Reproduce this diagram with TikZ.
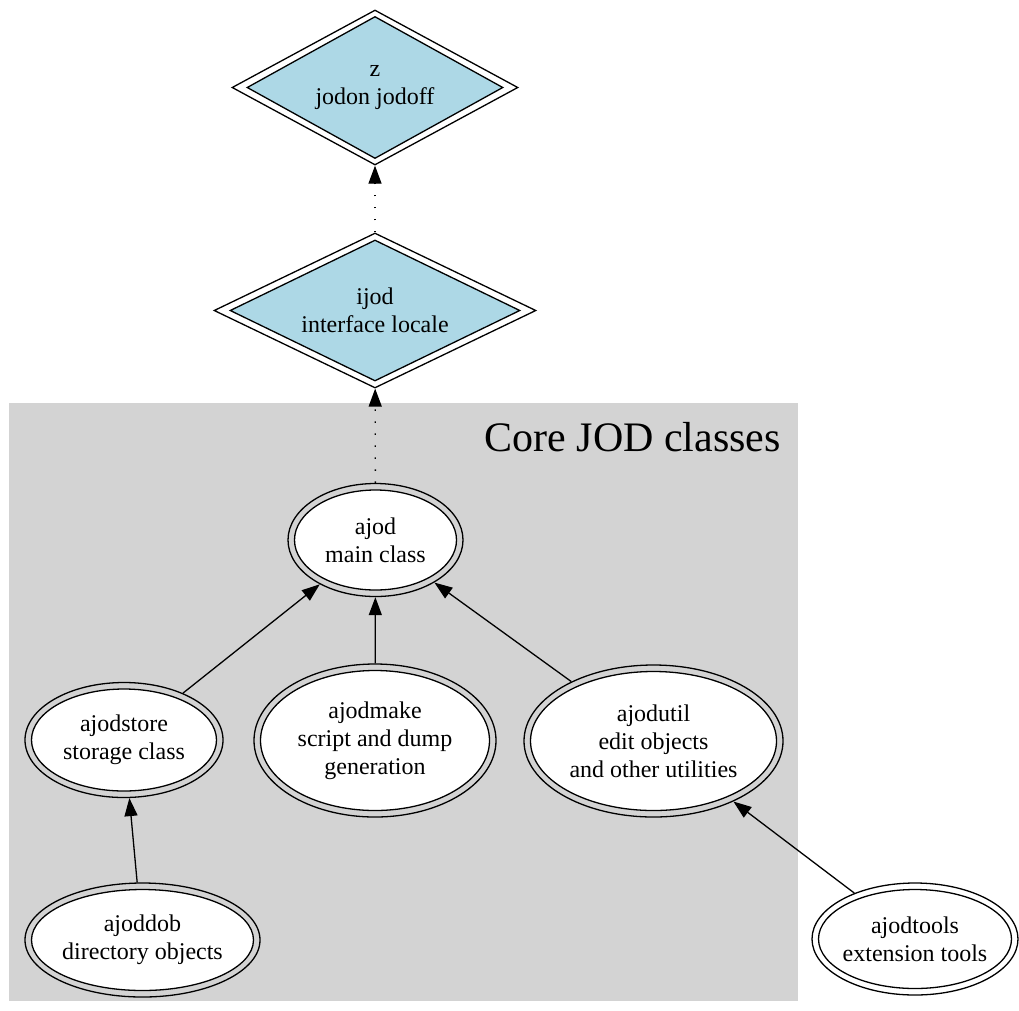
\documentclass[tikz,border=0pt]{standalone}
\usepackage{fontspec}
\setmainfont{Liberation Serif}
\usetikzlibrary{shapes.geometric,arrows.meta}
\definecolor{clgray}{HTML}{D3D3D3}
\definecolor{dblue}{HTML}{ADD8E6}
\newcommand\ndfont{\fontsize{24}{28}\selectfont}
\begin{document}
\begin{tikzpicture}[x=1pt,y=-1pt,
 outerE/.style={ellipse, draw, line width=1.3pt, inner sep=0pt},
 innerE/.style={ellipse, draw, fill=white, line width=1.3pt, inner sep=0pt},
 outerD/.style={diamond, draw, line width=1.3pt, inner sep=0pt, fill=white},
 innerD/.style={diamond, draw, fill=dblue, line width=1.3pt, inner sep=0pt},
 txt/.style={align=center, font=\ndfont, inner sep=0pt},
 edge/.style={line width=1.3pt, -{Triangle[length=18pt,width=13pt]}},
 dots/.style={edge, dash pattern=on 1.6pt off 10.4pt},
]
\useasboundingbox (0,0) rectangle (1019,1010);
\fill[clgray] (9,403) rectangle (798,1001);
\node[txt, font=\fontsize{42}{50}\selectfont, anchor=base east] (lbl) at (781,451) {Core JOD classes};

% diamonds
\node[outerD, minimum width=286pt, minimum height=155pt] (z) at (375,87.5) {};
\node[innerD, minimum width=256pt, minimum height=142pt] (z-in) at (375,87.5) {};
\node[txt] (z-t) at (375,87.5) {z\\jodon jodoff};

\node[outerD, minimum width=322pt, minimum height=155pt] (ijod) at (375,310.5) {};
\node[innerD, minimum width=290pt, minimum height=141pt] (ijod-in) at (375,310.5) {};
\node[txt] (ijod-t) at (375,310.5) {ijod\\interface locale};

% ellipses
\node[outerE, minimum width=175pt, minimum height=113pt] (ajod) at (375.5,540) {};
\node[innerE, minimum width=162pt, minimum height=100pt] (ajod-in) at (375.5,540) {};
\node[txt] (ajod-t) at (375.5,540) {ajod\\main class};

\node[outerE, minimum width=198pt, minimum height=115pt] (ajodstore) at (124,740) {};
\node[innerE, minimum width=185pt, minimum height=102pt] (ajodstore-in) at (124,740) {};
\node[txt] (ajodstore-t) at (124,740) {ajodstore\\storage class};

\node[outerE, minimum width=242pt, minimum height=153pt] (ajodmake) at (375,740.5) {};
\node[innerE, minimum width=229pt, minimum height=140pt] (ajodmake-in) at (375,740.5) {};
\node[txt] (ajodmake-t) at (375,740.5) {ajodmake\\script and dump\\generation};

\node[outerE, minimum width=259pt, minimum height=152pt] (ajodutil) at (653.5,741) {};
\node[innerE, minimum width=246pt, minimum height=139pt] (ajodutil-in) at (653.5,741) {};
\node[txt] (ajodutil-t) at (653.5,741) {ajodutil\\edit objects\\and other utilities};

\node[outerE, minimum width=235pt, minimum height=114pt] (ajoddob) at (142.5,940) {};
\node[innerE, minimum width=222pt, minimum height=101pt] (ajoddob-in) at (142.5,940) {};
\node[txt] (ajoddob-t) at (142.5,940) {ajoddob\\directory objects};

\node[outerE, minimum width=206pt, minimum height=112pt] (ajodtools) at (915,939) {};
\node[innerE, minimum width=193pt, minimum height=99pt] (ajodtools-in) at (915,939) {};
\node[txt] (ajodtools-t) at (915,939) {ajodtools\\extension tools};

% connectors
\draw[dots] (ijod) -- (z);
\draw[dots] (ajod) -- (ijod);
\draw[edge] (ajodstore) -- (ajod);
\draw[edge] (ajodmake) -- (ajod);
\draw[edge] (ajodutil) -- (ajod);
\draw[edge] (ajoddob) -- (ajodstore);
\draw[edge] (ajodtools) -- (ajodutil);
\end{tikzpicture}
\end{document}
